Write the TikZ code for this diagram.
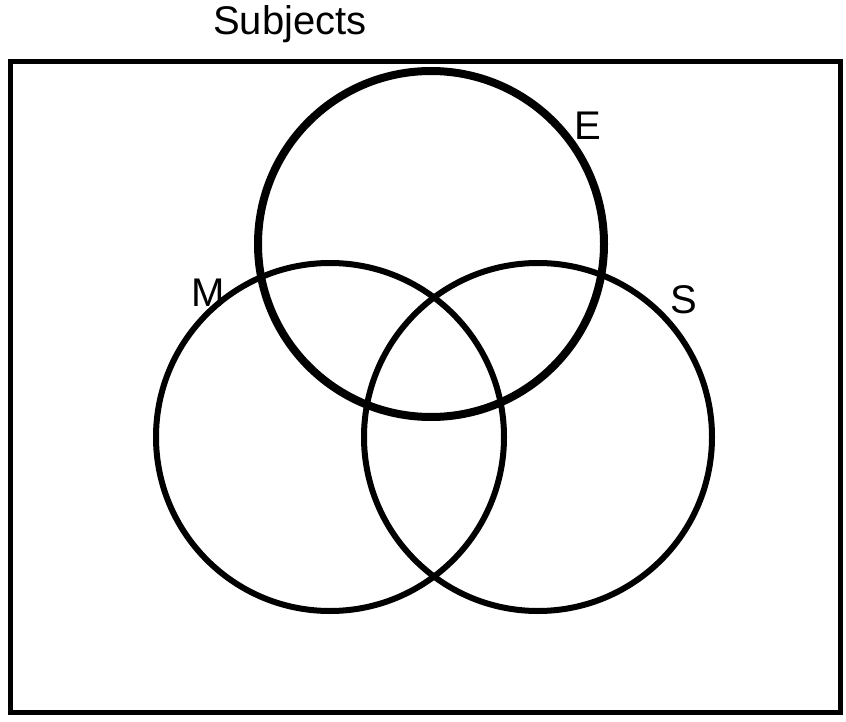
\documentclass[tikz,border=0pt]{standalone}
\usepackage{fontspec}
\setmainfont{DejaVu Sans}
\setsansfont{Liberation Sans}
\usetikzlibrary{positioning}
\tikzset{
  frame/.style={draw=black,line width=5pt,minimum width=830pt,minimum height=650pt,inner sep=0pt},
  setE/.style={circle,draw=black,line width=8pt,minimum size=346pt,inner sep=0pt},
  setMS/.style={circle,draw=black,line width=6pt,minimum size=348pt,inner sep=0pt},
  setlabel/.style={font=\fontsize{40}{44}\selectfont\sffamily}
}
\begin{document}
\begin{tikzpicture}[x=1pt,y=-1pt]
  \useasboundingbox (0,0) rectangle (846,722);
  % universe and the three sets
  \node[frame] (universe) at (425,387) {};
  \node[setE] (E) at (431,244) {};
  \node[setMS] (M) at (330,437) {};
  \node[setMS] (S) at (538,437) {};
  % labels
  \node[setlabel] (title) at (290,24) {Subjects};
  \node[setlabel] (Elabel) at (588,126) {E};
  \node[setlabel] (Mlabel) at (208,293) {M};
  \node[setlabel] (Slabel) at (684,300) {S};
\end{tikzpicture}
\end{document}
